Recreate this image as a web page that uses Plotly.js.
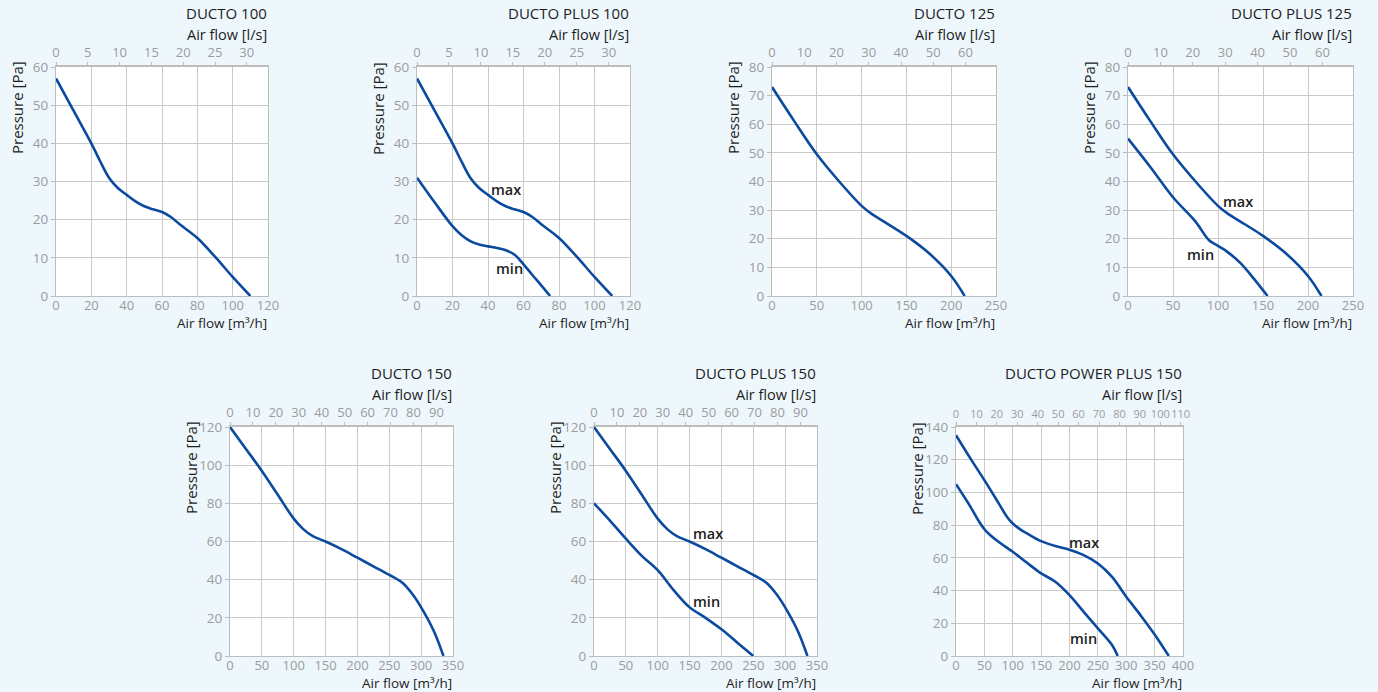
<!DOCTYPE html>
<html><head><meta charset="utf-8">
<script src="https://cdn.plot.ly/plotly-3.0.1.min.js"></script>
<style>html,body{margin:0;padding:0;background:#eef7fc;}</style>
</head><body>
<div id="chart" style="width:1378px;height:692px"></div>
<script>
// ---- data ----
const chartTitles = ["DUCTO 100", "DUCTO PLUS 100", "DUCTO 125", "DUCTO PLUS 125", "DUCTO 150", "DUCTO PLUS 150", "DUCTO POWER PLUS 150"];
const flowMax  = [120, 120, 250, 250, 350, 350, 400];   // m3/h axis range
const flowStep = [20, 20, 50, 50, 50, 50, 50];
const lsStep   = [5, 5, 10, 10, 10, 10, 10];
const pMax     = [60, 60, 80, 80, 120, 120, 140];
const pStep    = [10, 10, 10, 10, 20, 20, 20];

const d100MaxX = [0, 10, 20, 25, 30, 35, 40, 45, 50, 55, 60, 65, 70, 80, 90, 100, 110];
const d100MaxY = [57, 48.5, 40, 35.3, 31, 28.3, 26.5, 24.8, 23.5, 22.7, 22, 20.7, 18.8, 15.2, 10.3, 5, 0];
const d100MinX = [0, 10, 20, 25, 30, 35, 40, 45, 50, 55, 60, 65, 70, 75];
const d100MinY = [31, 24.5, 18.3, 16, 14.4, 13.5, 13, 12.6, 12, 10.8, 8.3, 5.5, 2.8, 0];

const d125MaxX = [0, 25, 50, 75, 100, 112, 125, 150, 175, 200, 215];
const d125MaxY = [73, 61, 49.5, 40, 31.5, 28.5, 26, 21, 15, 7, 0];
const d125MinX = [0, 25, 50, 75, 90, 100, 110, 125, 140, 155];
const d125MinY = [55, 45, 34.5, 26, 19.5, 17.5, 15.5, 11.5, 6, 0];

const d150MaxX = [0, 25, 50, 75, 100, 115, 130, 150, 175, 200, 225, 250, 270, 285, 300, 320, 335];
const d150MaxY = [120, 108.5, 97, 84.5, 72, 66.5, 62.8, 60, 56, 51.5, 47, 42.5, 38.5, 33, 25.5, 13, 0];
const d150MinX = [0, 25, 50, 75, 100, 125, 150, 175, 200, 225, 250];
const d150MinY = [80, 71, 61.5, 52.5, 45, 34.5, 25.5, 20, 14, 7, 0];

const dPowMaxX = [0, 25, 50, 75, 90, 100, 115, 125, 150, 175, 200, 225, 250, 275, 300, 325, 350, 375];
const dPowMaxY = [135, 121, 107.5, 93.5, 85, 81, 77, 75, 70.2, 67.2, 65, 61.7, 56.6, 48.4, 36.2, 25, 13.2, 0];
const dPowMinX = [0, 25, 40, 50, 60, 75, 100, 125, 150, 175, 200, 225, 250, 275, 285];
const dPowMinY = [105, 91.5, 82.5, 77.5, 74, 69.8, 63.7, 57, 50.5, 45.4, 37.2, 27, 16.9, 6.7, 0];

// series per chart: [x, y, label, labelX, labelY]
const chartSeries = [
  [[d100MaxX, d100MaxY, null]],
  [[d100MaxX, d100MaxY, "max", 50, 28], [d100MinX, d100MinY, "min", 52, 7.2]],
  [[d125MaxX, d125MaxY, null]],
  [[d125MaxX, d125MaxY, "max", 122, 33], [d125MinX, d125MinY, "min", 81, 14.6]],
  [[d150MaxX, d150MaxY, null]],
  [[d150MaxX, d150MaxY, "max", 179, 64], [d150MinX, d150MinY, "min", 176, 28.5]],
  [[dPowMaxX, dPowMaxY, "max", 226, 69.2], [dPowMinX, dPowMinY, "min", 224, 10.8]]
];

// ---- layout geometry (pixels: left, right, top, bottom) ----
const W = 1378, H = 692;
const boxes = [
  [56, 268, 67, 296], [417, 630, 67, 296], [772, 996, 67, 296], [1128, 1353, 67, 296],
  [230, 453, 427, 656], [594, 817, 427, 656], [956, 1183, 427, 656]
];
const topTickSize = [13, 13, 13, 13, 13, 13, 11];
const FONT = "Open Sans, Noto Sans, sans-serif";
const gray = "#9c9c9c", gridC = "#cacaca", lineC = "#bdbdbd", blue = "#0b4a9e", dark = "#1d1d1d";

const traces = [];
const layout = {
  width: W, height: H,
  margin: {l: 0, r: 0, t: 0, b: 0},
  paper_bgcolor: "#eef7fc",
  plot_bgcolor: "#ffffff",
  showlegend: false,
  font: {family: FONT, size: 13, color: gray},
  annotations: []
};

const px = v => v / W;
const py = v => 1 - v / H;

for (let i = 0; i < 7; i++) {
  const n = i + 1, nt = i + 8;
  const [l, r, t, b] = boxes[i];
  const xs = "xaxis" + n, ys = "yaxis" + n, xts = "xaxis" + nt;
  layout[xs] = {
    domain: [px(l), px(r)], anchor: "y" + n, range: [0, flowMax[i]], dtick: flowStep[i], tick0: 0,
    showgrid: true, gridcolor: gridC, gridwidth: 1, zeroline: false,
    showline: true, linecolor: lineC, linewidth: 1, mirror: false,
    ticks: "", tickangle: 0, ticklabelstandoff: -3, tickfont: {family: FONT, size: 13, color: gray}, fixedrange: true
  };
  layout[ys] = {
    domain: [py(b), py(t)], anchor: "x" + n, range: [0, pMax[i]], dtick: pStep[i], tick0: 0,
    showgrid: true, gridcolor: gridC, gridwidth: 1, zeroline: false,
    showline: true, linecolor: lineC, linewidth: 1, mirror: true,
    ticks: "outside", ticklen: 4, tickcolor: lineC, tickfont: {family: FONT, size: 13.5, color: gray}, fixedrange: true
  };
  layout[xts] = {
    overlaying: "x" + n, anchor: "y" + n, side: "top", range: [0, flowMax[i] / 3.6], dtick: lsStep[i], tick0: 0,
    showgrid: false, zeroline: false, showline: true, linecolor: lineC, linewidth: 2,
    ticks: "outside", ticklen: 3, tickcolor: lineC, tickangle: 0,
    tickfont: {family: FONT, size: topTickSize[i], color: gray}, fixedrange: true
  };

  chartSeries[i].forEach((s, k) => {
    traces.push({
      type: "scatter", mode: "lines", x: s[0], y: s[1], xaxis: "x" + n, yaxis: "y" + n,
      line: {color: blue, width: 2.6, shape: "spline", smoothing: 1}, hoverinfo: "skip"
    });
    if (k === 0) {
      // same curve expressed in l/s on the top axis (invisible) so that axis gets drawn
      traces.push({
        type: "scatter", mode: "lines", x: s[0].map(v => v / 3.6), y: s[1], xaxis: "x" + nt, yaxis: "y" + n,
        line: {color: "rgba(0,0,0,0)", width: 0}, opacity: 0, hoverinfo: "skip"
      });
    }
    if (s[2]) {
      layout.annotations.push({
        xref: "x" + n, yref: "y" + n, x: s[3], y: s[4], text: s[2], showarrow: false,
        xanchor: "center", yanchor: "middle",
        font: {family: FONT, size: 14.5, color: dark, weight: 600}
      });
    }
  });

  // texts around each chart
  layout.annotations.push({
    xref: "paper", yref: "paper", x: px(r + 1), y: py(t - 54), xanchor: "right", yanchor: "middle",
    text: chartTitles[i], showarrow: false, font: {family: FONT, size: 15, color: dark}
  });
  layout.annotations.push({
    xref: "paper", yref: "paper", x: px(r + 1), y: py(t - 33), xanchor: "right", yanchor: "middle",
    text: "Air flow [l/s]", showarrow: false, font: {family: FONT, size: 14.5, color: dark}
  });
  layout.annotations.push({
    xref: "paper", yref: "paper", x: px(r + 1), y: py(b + 26.5), xanchor: "right", yanchor: "middle",
    text: "Air flow [m³/h]", showarrow: false, font: {family: FONT, size: 13.5, color: dark}
  });
  layout.annotations.push({
    xref: "paper", yref: "paper", x: px(l - 39), y: py(t + 41), xanchor: "center", yanchor: "middle",
    text: "Pressure [Pa]", textangle: -90, showarrow: false, font: {family: FONT, size: 15, color: dark}
  });
}

Plotly.newPlot("chart", traces, layout, {displayModeBar: false, staticPlot: true});
</script>
</body></html>
